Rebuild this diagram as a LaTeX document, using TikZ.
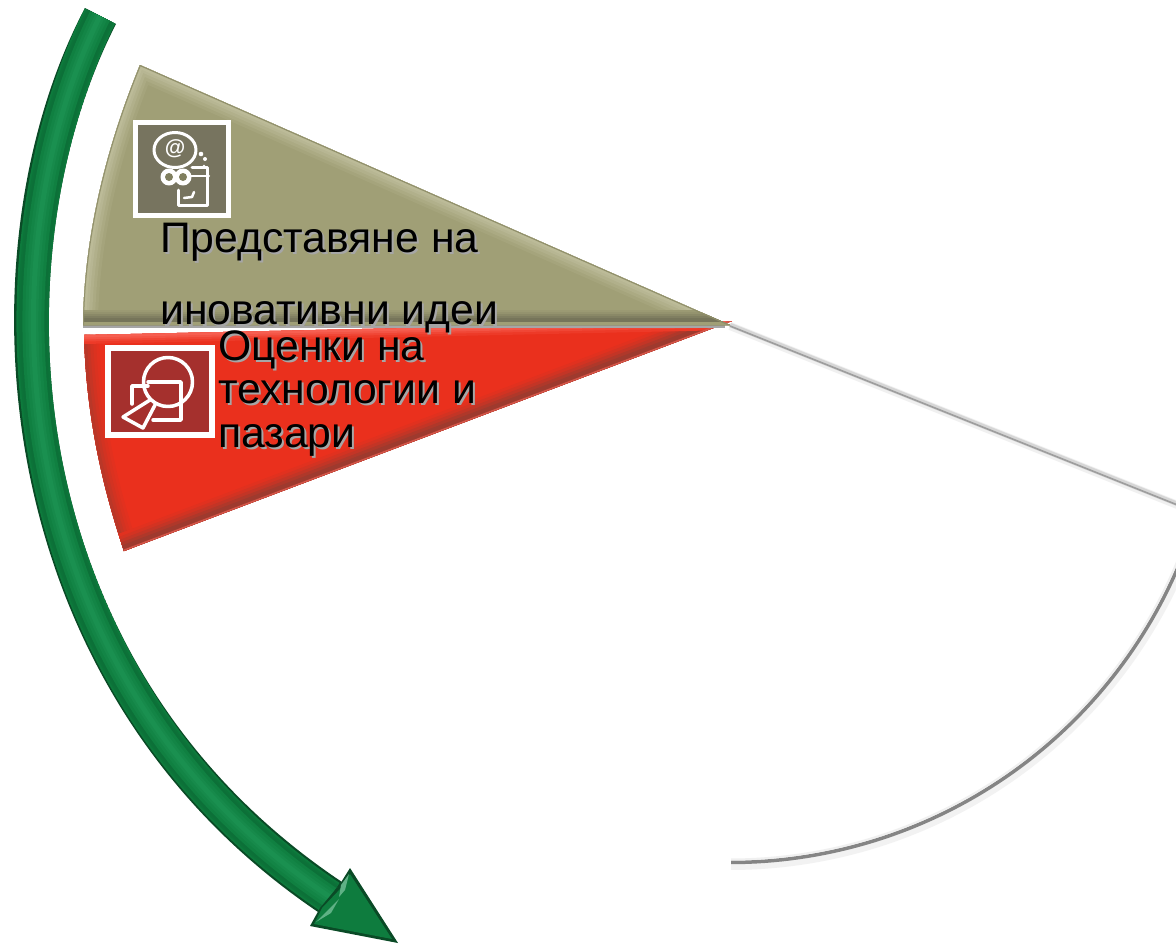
\documentclass[tikz,border=0pt]{standalone}
\usepackage{fontspec}
\setmainfont{Liberation Sans}
\definecolor{olivew}{HTML}{A09F76}
\definecolor{olived}{HTML}{6F6E55}
\definecolor{olivel}{HTML}{BFBE9C}
\definecolor{redw}{HTML}{EA301D}
\definecolor{redd}{HTML}{9E3A2E}
\definecolor{redl}{HTML}{F8675A}
\definecolor{iconol}{HTML}{77745F}
\definecolor{iconred}{HTML}{A5302D}
\definecolor{greenw}{HTML}{0D7A3C}
\definecolor{greend}{HTML}{0A4A26}
\definecolor{greenl}{HTML}{1A9050}
\def\olivewedge{(730,325) -- (83,325) .. controls (84,235) and (107,145) .. (140,65) -- cycle}
\def\redwedge{(732,321) -- (84,335) .. controls (86,410) and (100,480) .. (124,551) -- cycle}
\def\shaftpath{(85,8) .. controls (-38,240) and (-25,680) .. (318,912) -- (342,882) .. controls (10,660) and (0,250) .. (116,24) -- cycle}
\def\headpath{(310,926) -- (398,943) -- (350,868) -- (340,884) -- (320,908) -- cycle}
\tikzset{
 lbl/.style={font=\fontsize{42.7}{50}\selectfont,text=black,anchor=base west,inner sep=0pt},
 lblsh/.style={lbl,text=black!35},
 iconln/.style={draw=white,line width=3pt,fill=none,line cap=round,line join=round},
}
\begin{document}
\begin{tikzpicture}[x=1pt,y=-1pt]
\useasboundingbox (0,0) rectangle (1176,943);
\fill[white] (0,0) rectangle (1176,943);
% grey empty wedge
\draw[line width=8pt,black!6] (730,326) -- (1190,510);
\draw[line width=4.5pt,black!16] (730,325) -- (1190,509);
\draw[line width=1.6pt,black!38] (730,326) -- (1190,510);
\draw[line width=10pt,black!5] plot[domain=20:90,samples=70] ({730+490*cos(\x)},{375+490*sin(\x)});
\draw[line width=3.5pt,black!48] plot[domain=20:90,samples=70] ({730+487.5*cos(\x)},{375+487.5*sin(\x)});
\draw[line width=2pt,black!6] plot[domain=20:90,samples=70] ({730+484.5*cos(\x)},{375+484.5*sin(\x)});
\fill[white] (720,850) rectangle (731,875);
% red wedge
\begin{scope}
\clip \redwedge;
\fill[redw] (60,300) rectangle (760,570);
\foreach \w/\m in {30/10,24/20,18/32,12/48,6/65}{
  \draw[line width=\w pt,redd!\m!redw] (84,335) .. controls (86,410) and (100,480) .. (124,551);
  }
\foreach \w/\m in {36/12,30/30,24/52,18/78,12/100}{
  \draw[line width=\w pt,redd!\m!redw] (124,551) -- (732,321);
  }
\foreach \w/\m in {18/18,13/40,9/65,5/85}{
  \draw[line width=\w pt,redl!\m!redw] (84,335) -- (732,321);
  }
\draw[line width=3pt,redl!60!redd] (124,551) -- (732,321);
\end{scope}
% olive wedge
\fill[black!35] (83,322) rectangle (725,328);
\begin{scope}
\clip \olivewedge;
\fill[olivew] (60,50) rectangle (760,340);
\foreach \w/\m in {30/15,24/35,18/55,12/75,7/90}{
  \draw[line width=\w pt,olivel!\m!olivew] (83,325) .. controls (84,235) and (107,145) .. (140,65);
  \draw[line width=\w pt,olivel!\m!olivew] (140,65) -- (730,325);
  }
\foreach \w/\m in {30/10,26/25,22/45,18/65,14/85}{
  \draw[line width=\w pt,olived!\m!olivew] (83,325) -- (730,325);
  }
\draw[line width=6pt,olivew] (83,325) -- (730,325);
\draw[line width=2pt,olived!35!olivew] (140,65) -- (730,325);
\draw[line width=2pt,olived!30!olivew] (83,325) .. controls (84,235) and (107,145) .. (140,65);
\end{scope}
% green arrow
\begin{scope}
\clip \shaftpath;
\fill[greend] (-20,0) rectangle (360,930);
\foreach \w/\m in {34/100,30/85,26/80,20/70,12/45,5/15}{
  \draw[line width=\w pt,greenw!\m!greend] (100,16) .. controls (-14,245) and (-8,670) .. (330,897);
  }
\foreach \w/\m in {22/25,16/50,10/75,5/100}{
  \draw[line width=\w pt,greenl!\m!greenw] (100,16) .. controls (-14,245) and (-8,670) .. (330,897);
  }
\end{scope}
\fill[greend] \headpath;
\fill[greenw!90!greenl] (314,924) -- (392,939) -- (350,874) -- (342,887) -- (322,908) -- cycle;
\fill[greenl!70!white] (349,874) -- (341,885) -- (339,897) -- (345,890) -- cycle;
\fill[greenl!70!white] (316,922) -- (330,908) -- (339,899) -- (331,913) -- cycle;
% icon 1
\node[draw=white,line width=5pt,fill=iconol,minimum width=93pt,minimum height=93pt,inner sep=0pt] (ic1) at (182,169) {};
\draw[iconln,line width=3pt] (175,150) ellipse (21 and 17.5);
\node[text=white,font=\fontsize{21}{21}\selectfont\bfseries,inner sep=0pt] (atsign) at (175,149) {@};
\draw[iconln,fill=white,line width=1pt] (169,177) circle (8);
\draw[iconln,fill=white,line width=1pt] (183,177) circle (8);
\fill[olivew!80!black] (169,177) circle (4) (183,177) circle (4);
\draw[iconln,line width=3pt] (192,167) -- (207,167) -- (207,205) -- (178,205) -- (178,190);
\draw[iconln,line width=2.5pt] (184,198) -- (192,197) -- (194,192);
\draw[iconln,line width=2.5pt] (190,176) -- (209,176);
\fill[white] (201,154) circle (2.3) (205,159) circle (2) (204,166) circle (1.5);
% icon 2
\node[draw=white,line width=6pt,fill=iconred,minimum width=104pt,minimum height=87pt,inner sep=0pt] (ic2) at (160,391) {};
\draw[iconln,line width=3.5pt] (168,382) circle (24.5);
\draw[iconln,line width=3.5pt] (148,382) -- (181,382) -- (181,420) -- (153,420);
\draw[iconln,line width=3.5pt] (132,404) -- (132,386) -- (148,386);
\draw[iconln,line width=3.5pt] (150,400) -- (123,417) -- (143,428) -- (155,405);
% labels
\foreach \dx/\sty in {2/lblsh,0/lbl}{
 \node[\sty] at (160+\dx,252+\dx) {Представяне на};
 \node[\sty] at (160+\dx,324+\dx) {иновативни идеи};
 \node[\sty] at (218+\dx,360+\dx) {Оценки на};
 \node[\sty] at (218+\dx,403+\dx) {технологии и};
 \node[\sty] at (218+\dx,447+\dx) {пазари};
}
\end{tikzpicture}
\end{document}
